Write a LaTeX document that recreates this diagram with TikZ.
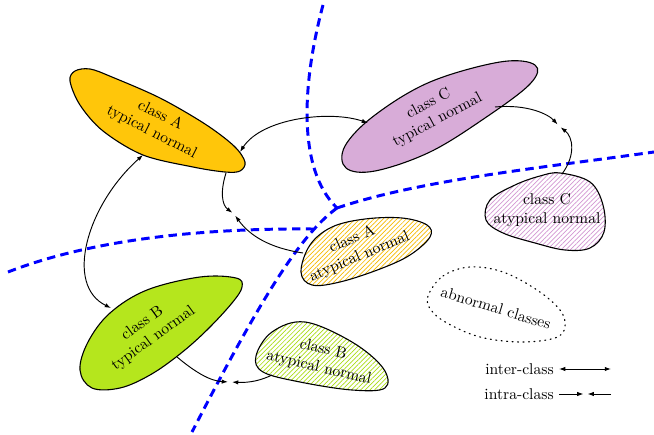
\documentclass[tikz,border=0pt]{standalone}
\usetikzlibrary{arrows.meta,patterns.meta}
\definecolor{cA}{RGB}{255,198,10}
\definecolor{cB}{RGB}{181,230,29}
\definecolor{cC}{RGB}{216,172,216}
\definecolor{hA}{RGB}{245,185,0}
\definecolor{hB}{RGB}{170,220,20}
\definecolor{hC}{RGB}{210,150,210}
\tikzset{
  blob/.style={draw=black, line width=0.7pt},
  hatch/.style={blob, pattern={Lines[angle=45,distance=2.1pt,line width=0.45pt]}, pattern color=#1},
  border/.style={draw=blue, line width=1.9pt, dash pattern=on 5.4pt off 3.4pt},
  lbl/.style={align=center, inner sep=0pt, font=\normalsize},
  conn/.style={draw=black, line width=0.6pt},
  inter/.style={conn, {Latex[length=4pt,width=2.8pt]}-{Latex[length=4pt,width=2.8pt]}},
  intra/.style={conn, -{Latex[length=4pt,width=2.8pt]}, shorten >=1.3pt},
}
\begin{document}
\begin{tikzpicture}[x=0.64pt,y=-0.64pt]
\useasboundingbox (0,0) rectangle (654,435);

% region boundaries
\coordinate (j1) at (337,208);
\coordinate (j2) at (313,229);
\draw[border] (323,5) .. controls (303,80) and (296,168) .. (j1);
\draw[border] (j1) .. controls (420,180) and (540,168) .. (654,152);
\draw[border] (j1) .. controls (300,235) and (260,300) .. (192,432);
\draw[border] (8,272) .. controls (90,240) and (200,228) .. (j2);

% class A typical
\fill[cA] plot[smooth cycle, tension=0.55] coordinates {(70,81) (75,71) (90,69) (112,77) (160,98) (205,124) (234,146) (245,162) (240,171) (225,172) (193,167) (143,155) (103,131) (80,105)};
\draw[blob] plot[smooth cycle, tension=0.55] coordinates {(70,81) (75,71) (90,69) (112,77) (160,98) (205,124) (234,146) (245,162) (240,171) (225,172) (193,167) (143,155) (103,131) (80,105)};
\node[lbl, rotate=-27] (tA) at (156,124) {class A\\typical normal};

% class C typical
\fill[cC] plot[smooth cycle, tension=0.6] coordinates {(535,65) (500,62) (430,82) (375,115) (345,146) (346,168) (375,171) (430,152) (485,118) (530,84)};
\draw[blob] plot[smooth cycle, tension=0.6] coordinates {(535,65) (500,62) (430,82) (375,115) (345,146) (346,168) (375,171) (430,152) (485,118) (530,84)};
\node[lbl, rotate=28] (tC) at (433,112) {class C\\typical normal};

% class B typical
\fill[cB] plot[smooth cycle, tension=0.6] coordinates {(236,278) (200,277) (147,290) (110,313) (88,342) (80,370) (92,388) (120,388) (150,375) (180,354) (207,330) (232,303) (242,287)};
\draw[blob] plot[smooth cycle, tension=0.6] coordinates {(236,278) (200,277) (147,290) (110,313) (88,342) (80,370) (92,388) (120,388) (150,375) (180,354) (207,330) (232,303) (242,287)};
\node[lbl, rotate=36] (tB) at (148,331) {class B\\typical normal};

% class A atypical
\path[hatch=hA] plot[smooth cycle, tension=0.6] coordinates {(301,272) (310,245) (332,227) (365,219) (402,218) (427,225) (430,237) (410,255) (380,269) (340,282) (312,285)};
\node[lbl, rotate=23] (aA) at (356,248) {class A\\atypical normal};

% class B atypical
\path[hatch=hB] plot[smooth cycle, tension=0.6] coordinates {(256,356) (272,332) (305,322) (352,342) (383,368) (385,388) (352,390) (300,382) (263,372)};
\node[lbl, rotate=-13] (aB) at (321,359) {class B\\atypical normal};

% class C atypical
\path[hatch=hC] plot[smooth cycle, tension=0.6] coordinates {(560,173) (590,182) (603,205) (604,232) (590,248) (565,250) (535,243) (503,233) (486,220) (490,200) (515,185) (540,176)};
\node[lbl] (aC) at (547,210) {class C\\atypical normal};

% abnormal
\draw[line width=0.75pt, dash pattern=on 0.6pt off 2.9pt, line cap=round] plot[smooth cycle, tension=0.6] coordinates {(428,296) (443,276) (470,267) (503,272) (537,290) (560,310) (565,327) (555,338) (520,342) (480,337) (447,323) (431,310)};
\node[lbl, rotate=-17] (ab) at (496,308) {abnormal classes};

% connector end points
\coordinate (pA1) at (240,152);
\coordinate (pC1) at (368,123);
\coordinate (pA2) at (143,155);
\coordinate (pB1) at (111,308);
\coordinate (pA3) at (226,173);
\coordinate (qA) at (303,253);
\coordinate (mA) at (234,214);
\coordinate (pB2) at (177,357);
\coordinate (qB) at (272,375);
\coordinate (mB) at (230,382);
\coordinate (pC2) at (495,107);
\coordinate (qC) at (562,174);
\coordinate (mC) at (559,126);

% inter-class
\draw[inter] (pA1) .. controls (262,118) and (330,110) .. (pC1);
\draw[inter] (pA2) .. controls (87,205) and (64,285) .. (pB1);
% intra-class
\draw[intra] (pA3) .. controls (220,192) and (222,205) .. (mA);
\draw[intra] (qA) .. controls (270,248) and (250,236) .. (mA);
\draw[intra] (pB2) .. controls (195,372) and (210,381) .. (mB);
\draw[intra] (qB) .. controls (262,380) and (250,383) .. (mB);
\draw[intra] (pC2) .. controls (527,104) and (548,114) .. (mC);
\draw[intra] (qC) .. controls (576,155) and (573,137) .. (mC);

% legend
\node[lbl, anchor=east] (l1) at (554,369) {inter-class};
\node[lbl, anchor=east] (l2) at (554,394) {intra-class};
\coordinate (l1a) at (559,369);
\coordinate (l1b) at (611,369);
\coordinate (l2a) at (559,394);
\coordinate (l2m) at (585.5,394);
\coordinate (l2b) at (611,394);
\draw[inter] (l1a) -- (l1b);
\draw[intra] (l2a) -- (l2m);
\draw[intra] (l2b) -- (l2m);
\end{tikzpicture}
\end{document}
